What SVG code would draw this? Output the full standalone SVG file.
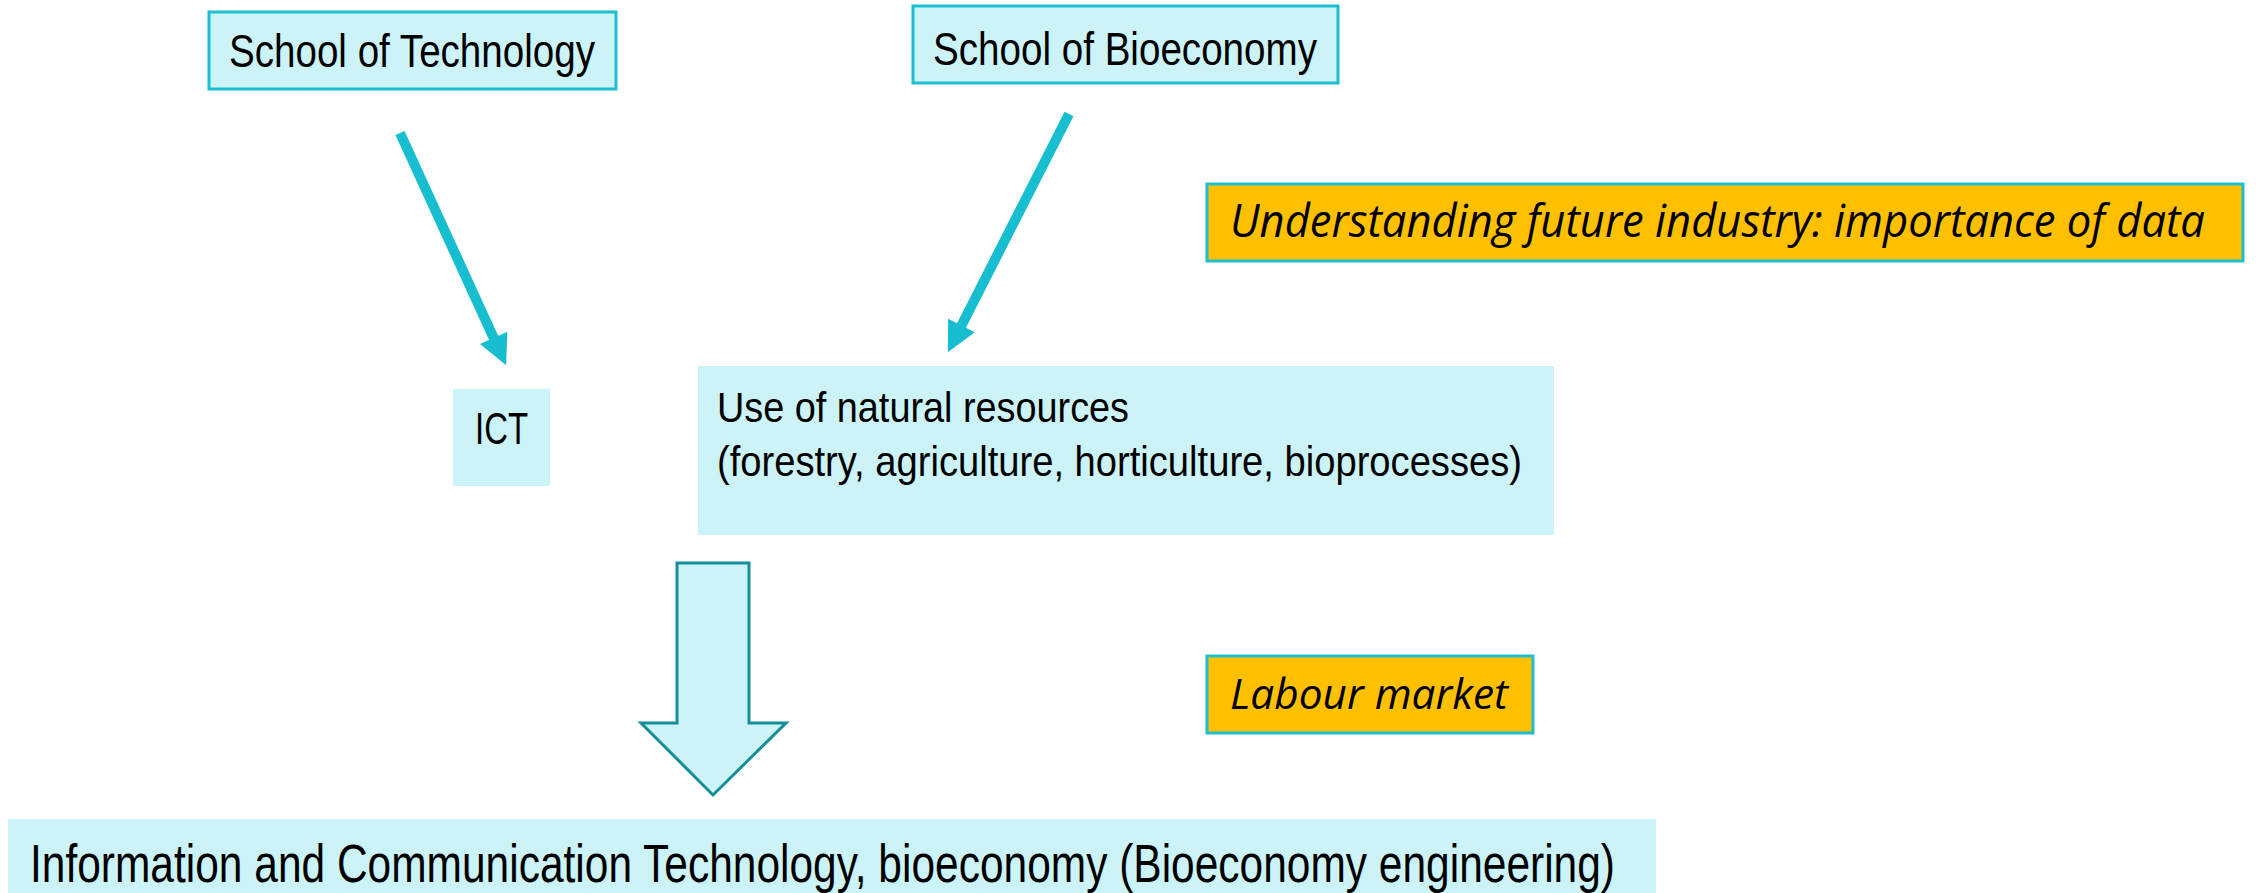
<svg xmlns="http://www.w3.org/2000/svg" width="2256" height="893" viewBox="0 0 2256 893">
<style>
.cy{fill:#CCF3F7;}
.cyb{fill:#CCF3F7;stroke:#1CBFCF;stroke-width:3;}
.or{fill:#FFC000;stroke:#1CBFCF;stroke-width:3;}
.n{font-family:"Liberation Sans",Arial,sans-serif;fill:#000;}
.i{font-family:"Open Sans","DejaVu Sans",sans-serif;font-style:italic;fill:#000;}
.conn{stroke:#17BECF;stroke-width:10;fill:none;marker-end:url(#ah);}
.big{fill:#CCF3F7;stroke:#168E98;stroke-width:3;stroke-linejoin:miter;}
</style>
<defs>
<marker id="ah" viewBox="0 0 10 10" refX="1" refY="5" markerWidth="3.2" markerHeight="3" orient="auto" markerUnits="strokeWidth">
<path d="M0,0 L10,5 L0,10 z" fill="#17BECF"/>
</marker>
</defs>
<rect width="2256" height="893" fill="#fff"/>
<g id="school-technology">
<rect class="cyb" x="209" y="12" width="407" height="77"/>
<text class="n" x="229" y="67" font-size="46" textLength="366" lengthAdjust="spacingAndGlyphs">School of Technology</text>
</g>
<g id="school-bioeconomy">
<rect class="cyb" x="913" y="6" width="425" height="77"/>
<text class="n" x="933" y="65" font-size="47" textLength="384" lengthAdjust="spacingAndGlyphs">School of Bioeconomy</text>
</g>
<g id="understanding">
<rect class="or" x="1207" y="184" width="1036" height="77"/>
<text class="i" x="1230" y="237" font-size="45" textLength="975" lengthAdjust="spacingAndGlyphs">Understanding future industry: importance of data</text>
</g>
<g id="ict">
<rect class="cy" x="453" y="389" width="97" height="97"/>
<text class="n" x="475" y="444" font-size="44" textLength="53" lengthAdjust="spacingAndGlyphs">ICT</text>
</g>
<g id="natural-resources">
<rect class="cy" x="698" y="366" width="856" height="169"/>
<text class="n" x="717" y="422" font-size="42" textLength="412" lengthAdjust="spacingAndGlyphs">Use of natural resources</text>
<text class="n" x="717" y="476" font-size="42" textLength="805" lengthAdjust="spacingAndGlyphs">(forestry, agriculture, horticulture, bioprocesses)</text>
</g>
<g id="labour-market">
<rect class="or" x="1207" y="656" width="326" height="77"/>
<text class="i" x="1230" y="709" font-size="42" textLength="278" lengthAdjust="spacingAndGlyphs">Labour market</text>
</g>
<g id="ict-bioeconomy">
<rect class="cy" x="8" y="819" width="1648" height="74"/>
<text class="n" x="30" y="882" font-size="54" textLength="1585" lengthAdjust="spacingAndGlyphs">Information and Communication Technology, bioeconomy (Bioeconomy engineering)</text>
</g>
<g id="connectors">
<line class="conn" x1="400" y1="133" x2="494.9" y2="340.6"/>
<line class="conn" x1="1069" y1="114" x2="960.1" y2="328.2"/>
<polygon class="big" points="677,563 749,563 749,723 786,723 713,795 641,723 677,723"/>
</g>
</svg>
